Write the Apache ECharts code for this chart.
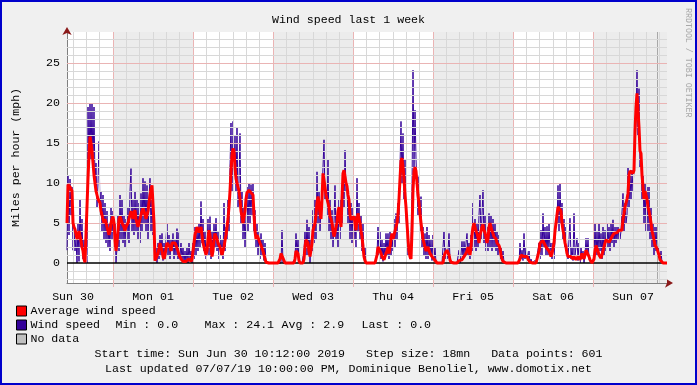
<!DOCTYPE html>
<html>
<head>
<meta charset="utf-8">
<script src="https://cdn.jsdelivr.net/npm/echarts@6/dist/echarts.min.js"></script>
<style>
html,body{margin:0;padding:0;background:#f0f0f0;}
#c{width:697px;height:385px;}
</style>
</head>
<body>
<div id="c"></div>
<script>
// ---- data (18 min steps starting Sun Jun 30 10:12) ----
const dayLabels = ['Sun 30','Mon 01','Tue 02','Wed 03','Thu 04','Fri 05','Sat 06','Sun 07'];
const yTickValues = [0,5,10,15,20,25];
const windSpeed = [
1.6,11.0,3.5,10.5,6.0,9.5,1.6,4.5,1.5,3.0,
0,5.0,0.2,7.9,2.0,5.5,0.5,3.0,0,1.0,
0,19.5,12,20.0,13,20.0,12,19.5,10,12.5,
7,10,15.2,6,9,4,8.5,3,7.5,2.5,
6.5,2,5,1.5,7,3,6.5,2,5,0,
2,6,1.5,8.5,3,7.9,2.5,6,2,5.5,
3,7,2.5,9,11.8,4,8,3.5,9,4,
8,3,7.5,2.5,8.7,4,10.6,5,10.2,4,
9.7,3,8,10.6,4,8.5,3.5,6,0.5,2,
0,2.5,0.5,3.5,1,3.7,0.3,2.5,0.5,3,
5,1,3.5,0.5,3,1.5,3.7,0.5,3,1,
4.3,0.5,3.8,1,2.5,0.3,2,0,1.5,0,
2,0,2.5,0.3,1.5,0,2.5,0.5,4.5,1,
4.5,1.5,5,2,7.7,2.5,5.5,1.5,4,0.5,
2,5.5,1,5.8,0.5,4,1.5,5,2,5.6,
1.5,4,0.5,3.5,1,3,0.5,7.5,1.5,4.5,
3,8,4,12,17.5,9,17.7,11,16,9,
17.0,7,10,16.2,5,9,3,7,2,6,
9.5,4,10,5,9.8,6,10,4,6.6,2,
5,1,4,0.5,3.7,1,3,0.3,2.5,0,
0,0,0,0,0,0,0,0,0,0,
0,0,0,0,0,4.1,0,0,0,0,
0,0,0,0,0,0,0,0,0.5,3.7,
1,3,0,0,0,0,0,1.5,4,1,
5.4,1,4.5,0,3,1.5,6.6,2.5,7.9,3,
11.4,5,9,4,7,8.5,12,15.4,8,10,
6,12.9,4,7.9,3,6.6,2,5,9.7,3,
6,2,7.9,3,8,5,11,7,14.1,9,
10,5,8,3,7.5,2.5,7,3,6,2,
10.6,4,7.5,3,6,1.5,5,0.5,2,0,
0,0,0,0,0,0,0,0,0,0,
1,4.5,1,4,0.5,2.9,0.2,2.5,0.5,3.7,
1,3.7,0.5,3.9,1,3.5,1.5,5.5,2,6.2,
3,7.5,5,12,17.7,10,16.2,8,12.9,6,
6.2,1,2,0.5,2.5,9,24.1,12,19.1,13,
12.9,6,10.8,4,8.3,2,4.5,1,3.7,0.5,
4.5,0.5,3.5,1,2.9,0.3,3.5,0.5,2,0,
0,0,0,0,0,0,0,3.9,0.5,2,
0.5,1.5,3.7,0.5,0,0,0,0,0,0,
0,0,1.6,0,1,2.7,0.5,2.7,1,2.5,
3.7,1,2.5,0.5,3.5,1.5,7.5,2,5.5,1.5,
5,2,6,8.5,3,6,9.1,2.5,6,1.5,
4.5,1.5,6.2,2,6,1.5,5.5,2,5,1.5,
4,1,3.5,0.5,2,0.3,1.5,0,0,0,
0,0,0,0,0,0,0,0,0,0,
0,0,0,2.5,0.5,1.6,0.3,3.7,0.5,2,
2,0.3,1.5,0,0.5,0,0,0,0.3,0,
0,0,2.5,0.5,4.1,1,6.2,2,4.5,1,
4.6,1,5,1.5,2.5,0.5,2.5,0.5,3,5.5,
5,9.7,4,10,5,7.5,3,5.5,2,4.5,
1.8,0.5,3,5.6,0.5,2,0.3,6.2,1,2,
3.1,0.3,2.5,0,2,0.5,1.5,0,1,3.1,
1,3.1,0.5,0.5,0,0,0,0.5,5.0,1,
4,1,5,1.5,3.7,0.5,4.5,1,4.1,1.5,
5,2,4.5,1.5,5,2.5,5.4,2,4.5,2.5,
4.5,3,4.5,3,4,4,8.7,4,7.5,5,
6,12,7,11,8,11.6,9,12,14,18,
24.1,16,21.8,12,14,8,11,5,10,4,
9.5,4,9.5,3,7,2,5,1,4.5,1.5,
4.5,1,2,0.3,1.5,0,0,0,0,0,
0
];
const avgWindSpeed = [
5.0,9.8,9.8,9.5,9.6,9.0,5.0,4.5,4.2,3.6,
3.0,3.3,4.0,3.8,2.8,2.0,1.5,0.5,0.1,0.1,
0.3,10.6,13.5,15.8,15.0,14.0,12.5,11.0,10.0,9.0,
8.5,8,8.2,7.5,6.5,6,5.5,5,5.5,5,
4.5,4,3.5,4,5,5.5,5.8,5,3,1.5,
2.5,4,5.5,5.8,5.5,5.0,5.2,4.5,4,4.5,
4.5,5,5.5,6,6.5,6.0,5.5,6.3,6.6,5.5,
5,4.5,5,5.5,6,6.5,6.8,6.5,6,5.5,
6,6.5,7.5,8.5,9.2,9.7,9.5,5,0.3,0.2,
0.5,1.2,1.8,2.5,2.0,1.5,0.8,0.5,1.0,1.8,
2.5,2.7,2.5,2.0,1.5,2.5,2.6,2.6,2.5,2.2,
2.0,1.5,1.0,0.8,0.5,0.3,0.2,0.2,0.3,0.2,
0.1,0.2,0.5,0.3,0.2,0.5,1.5,2.5,3.5,4.0,
4.5,4.2,3.8,4.0,4.5,3.5,2.5,2.0,1.5,1.0,
1.5,3.0,4.1,3.5,2.0,0.8,1.5,3.0,3.7,3.3,
3.0,2.5,2.5,2.0,1.5,1.0,1.2,2.0,2.8,3.5,
4.5,5.5,7,9,11.5,13.5,14.3,14.0,12,10.5,
10,9.5,9,8,6.5,5.8,5.0,5.2,6.5,8.0,
8.8,9.0,9.1,9.0,8.8,9.0,8.5,6,4,3,
3.5,3.2,3.0,2.5,2.2,2.0,1.5,1.0,0.5,0.1,
0,0,0,0,0,0,0,0,0,0,
0,0,0,0.5,1.2,1.2,1.0,0.3,0,0,
0,0,0,0,0,0,0,0,0.5,1.5,
1.6,1.2,0.3,0,0,0,0,0.5,2.0,2.9,
2.9,2.5,1.5,0.8,1.0,2.5,4.1,4.5,5.0,6.0,
7.5,8.3,7.5,6.2,5.5,8,11.2,11.0,9.5,8.5,
8.3,8.5,7,5.8,5.5,5.0,4.0,3.3,3.8,4.5,
5,6.5,7.0,5.5,4.5,8,11.2,11.6,11.4,10,
9.6,8.5,7.9,6,5.4,5.2,5.5,5.8,5.0,4.1,
5.5,6.2,6.0,5.0,4.0,3.3,2.0,0.8,0.3,0,
0,0,0,0,0,0,0,0,0,0,
1.0,2.0,2.0,1.5,1.2,0.8,0.6,0.4,0.8,1.2,
1.5,2.0,1.2,2.0,3.0,3.7,3.0,3.5,4.0,4.5,
5,6,8,10.5,12.8,13.1,12,10.5,8.5,7,
5,3,1.5,0.8,0.5,4,9.1,11.5,12.0,11.5,
10,8.5,7.5,6.2,5.0,4.0,3.0,2.5,2.0,1.5,
1.5,2.0,1.8,1.2,1.0,0.8,0.6,0.5,0.4,0.3,
0,0,0,0,0,0,0,0.8,1.2,1.2,
1.6,1.5,1.0,0.4,0.1,0,0,0,0,0,
0,0,0.3,0.4,0.4,0.4,0.5,0.8,1.0,1.2,
1.5,2.0,1.5,1.0,2.0,3.5,4.5,5.0,4.5,4.0,
3.7,3.2,2.5,3.5,3.5,4.5,4.8,4.1,3.8,3.2,
2.5,3.0,4.5,5.0,4.8,4.0,3.7,3.3,3.5,3.0,
2.5,2.5,2.2,1.8,1.0,0.5,0.2,0,0,0,
0,0,0,0,0,0,0,0,0,0,
0,0,0,0.5,1.0,1.2,1.0,0.8,1.0,0.8,
0.8,0.5,0.3,0.1,0,0,0,0,0,0,
0,0.2,1.5,2.5,2.5,2.3,2.8,2.5,2.5,2.0,
2.0,1.8,1.5,1.2,0.8,1.2,1.8,2.5,4.0,5.0,
6,7.0,7.2,7.0,6.5,5.0,4.1,3.5,2.5,2.0,
1.2,0.8,0.6,1.0,0.8,0.6,0.5,0.8,0.6,0.4,
0.5,0.8,0.6,0.4,0.8,1.2,0.8,0.5,1.0,1.6,
1.6,1.5,0.8,0.4,0.2,0,0,0.5,1.5,2.2,
2.0,1.5,1.0,0.8,0.6,0.8,1.5,2.0,2.5,2.9,
2.7,2.7,2.6,2.7,2.8,3.3,3.5,3.7,3.6,3.5,
3.8,4.0,4.1,4.1,4.0,4.1,5.5,6.2,7.0,7.5,
8.0,8.7,11.0,11.5,11.6,11.4,11.2,11.6,16.5,19.5,
21.2,21.2,17,14,13.7,11,9.5,8,9.0,8.5,
8.0,7.0,6.5,5.8,5.0,4.0,3.5,2.9,2.2,2.0,
1.8,1.6,1.0,0.4,0.4,0.2,0,0,0,0,
0
];
const statsParts = ['Min : 0.0', 'Max : 24.1', 'Avg : 2.9', 'Last : 0.0'];

// ---- time helpers ----
const startMin = 10*60 + 12;   // Sun 30 10:12
const stepMin = 18;
const nPts = windSpeed.length;
const idxOf = m => (m - startMin) / stepMin;
const noonIdx = dayLabels.map((_, d) => idxOf(d*1440 + 720));
const midnightIdx = [];
for (let d = 1; d <= 7; d++) midnightIdx.push(idxOf(d*1440));
const minorIdx = [];
for (let k = 0; k < 60; k++) {
  const v = idxOf(k*240);
  if (v > 0 && v <= nPts - 1 && (k % 6) !== 0) minorIdx.push(v);
}
const vruleIdx = 590;

const FONT = '"Liberation Mono","DejaVu Sans Mono",monospace';
const FS = 11.6;
const minorColor = '#d8d8d8';
const majorColor = '#eab4b4';
const arrowColor = '#8b1a1a';

const vLines = minorIdx.map(v => ({xAxis: v, lineStyle: {color: minorColor, width: 1, type: 'solid'}}))
  .concat(midnightIdx.map(v => ({xAxis: v, lineStyle: {color: majorColor, width: 1, type: 'solid'}})))
  .concat([{xAxis: vruleIdx, lineStyle: {color: '#a8a8a8', width: 1, type: 'solid'}}]);
const hLines = [];
for (let y = -2; y <= 28; y++) {
  if (y === 0) continue;
  hLines.push({yAxis: y, lineStyle: {color: (y % 5 === 0) ? majorColor : minorColor, width: 1, type: 'solid'}});
}
const shade = [];
for (let i = 0; i < midnightIdx.length; i += 2) {
  shade.push([{xAxis: midnightIdx[i]}, {xAxis: Math.min(i+1 < midnightIdx.length ? midnightIdx[i+1] : nPts - 1, nPts - 1)}]);
}

const richLeg = {
  a: {fontFamily: FONT, fontSize: FS, color: '#000', width: 85},
  b: {fontFamily: FONT, fontSize: FS, color: '#000', width: 89},
  c: {fontFamily: FONT, fontSize: FS, color: '#000', width: 77},
  d: {fontFamily: FONT, fontSize: FS, color: '#000', width: 80},
  e: {fontFamily: FONT, fontSize: FS, color: '#000'}
};

const chart = echarts.init(document.getElementById('c'), null, {width: 697, height: 385});
chart.setOption({
  animation: false,
  backgroundColor: '#f0f0f0',
  textStyle: {fontFamily: FONT},
  title: {
    text: 'Wind speed last 1 week', left: 'center', top: 9,
    textStyle: {fontFamily: FONT, fontSize: FS, fontWeight: 'normal', color: '#000'}
  },
  grid: {left: 67, right: 30, top: 32, bottom: 102, show: true, backgroundColor: '#ffffff', borderWidth: 0},
  xAxis: [{
    type: 'value', min: 0, max: nPts - 1,
    splitLine: {show: false},
    axisLine: {onZero: false, show: true, lineStyle: {color: '#808080', width: 1}},
    axisTick: {show: true, customValues: midnightIdx, length: 4, lineStyle: {color: majorColor}},
    axisLabel: {
      customValues: noonIdx, margin: 8, color: '#000', fontFamily: FONT, fontSize: FS,
      formatter: v => { const k = noonIdx.findIndex(n => Math.abs(n - v) < 0.01); return k >= 0 ? dayLabels[k] : ''; }
    }
  }, {
    type: 'value', min: 0, max: nPts - 1, position: 'bottom',
    splitLine: {show: false}, axisTick: {show: false}, axisLabel: {show: false},
    axisLine: {onZero: false, show: true, lineStyle: {color: arrowColor, width: 0}, symbol: ['none', 'arrow'], symbolSize: [7, 8], symbolOffset: [0, 6]}
  }],
  yAxis: [{
    type: 'value', min: -2.5, max: 28.875,
    name: 'Miles per hour (mph)', nameLocation: 'middle', nameGap: 45, nameRotate: 90,
    nameTextStyle: {fontFamily: FONT, fontSize: FS, color: '#000'},
    splitLine: {show: false},
    axisLine: {show: true, onZero: false, lineStyle: {color: '#808080', width: 1}},
    axisTick: {show: false},
    axisLabel: {customValues: yTickValues, margin: 7, color: '#000', fontFamily: FONT, fontSize: FS}
  }, {
    type: 'value', min: -2.5, max: 28.875, position: 'left',
    splitLine: {show: false}, axisTick: {show: false}, axisLabel: {show: false},
    axisLine: {show: true, onZero: false, lineStyle: {color: arrowColor, width: 0}, symbol: ['none', 'arrow'], symbolSize: [7, 8], symbolOffset: [0, 5]}
  }],
  legend: {
    orient: 'vertical', left: 16, top: 305, padding: 0, itemWidth: 10, itemHeight: 10, itemGap: 2,
    icon: 'rect', selectedMode: false,
    itemStyle: {borderColor: '#000', borderWidth: 1},
    textStyle: {fontFamily: FONT, fontSize: FS, color: '#000', padding: [0, 0, 0, -1], rich: richLeg},
    data: ['Average wind speed', 'Wind speed', 'No data'],
    formatter: name => name === 'Wind speed'
      ? '{a|Wind speed}{b|' + statsParts[0] + '}{c|' + statsParts[1] + '}{d|' + statsParts[2] + '}{e|' + statsParts[3] + '}'
      : name
  },
  graphic: [
    {type: 'text', left: 'center', top: 348, style: {text: 'Start time: Sun Jun 30 10:12:00 2019   Step size: 18mn   Data points: 601', font: FS + 'px ' + FONT, fill: '#000'}},
    {type: 'text', left: 'center', top: 363, style: {text: 'Last updated 07/07/19 10:00:00 PM, Dominique Benoliel, www.domotix.net', font: FS + 'px ' + FONT, fill: '#000'}},
    {type: 'text', x: 692, y: 8, rotation: -Math.PI / 2, style: {text: 'RRDTOOL / TOBI OETIKER', font: '8.3px ' + FONT, fill: '#a8a8a8', textVerticalAlign: 'top'}},
    {type: 'rect', shape: {x: 1, y: 1, width: 695, height: 383}, style: {fill: 'none', stroke: '#0000cc', lineWidth: 2}, silent: true}
  ],
  series: [
    {
      type: 'line', name: 'shade', data: [], z: 1, silent: true,
      markArea: {silent: true, itemStyle: {color: '#ececec'}, data: shade}
    },
    {
      type: 'line', name: 'grid', data: [], z: 2, silent: true,
      markLine: {silent: true, symbol: ['none', 'none'], label: {show: false}, animation: false, data: vLines.concat(hLines)}
    },
    {
      type: 'line', name: 'zero', data: [], z: 3, silent: true,
      markLine: {silent: true, symbol: ['none', 'none'], label: {show: false}, data: [{yAxis: 0, lineStyle: {color: '#000', width: 1.5, type: 'solid'}}]}
    },
    {
      type: 'line', name: 'Wind speed', z: 4, symbol: 'none', silent: true,
      itemStyle: {color: '#330099'}, lineStyle: {color: '#330099', width: 1},
      data: windSpeed.map((v, i) => [i, v])
    },
    {
      type: 'line', name: 'Average wind speed', z: 5, symbol: 'none', silent: true,
      itemStyle: {color: '#ff0000'}, lineStyle: {color: '#ff0000', width: 3},
      data: avgWindSpeed.map((v, i) => [i, v])
    },
    {
      type: 'line', name: 'No data', data: [], itemStyle: {color: '#c0c0c0'}
    }
  ]
});
</script>
</body>
</html>
